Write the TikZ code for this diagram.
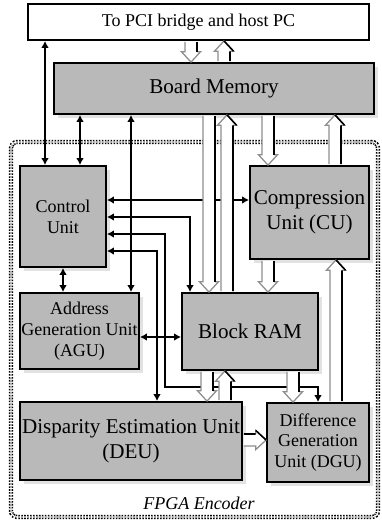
\documentclass[tikz,border=0pt]{standalone}
\usepackage{fontspec}
\setmainfont{Liberation Serif}
\usetikzlibrary{arrows.meta, calc, shadows}
\definecolor{grismedio}{HTML}{B9B9B9}
\definecolor{grissombra}{HTML}{E2E2E2}
\definecolor{grisbus}{HTML}{8E8E8E}
\tikzset{
  caja/.style={rectangle, draw=black, line width=1.3pt, fill=white, inner sep=0.5pt,
               minimum width=85.25mm, minimum height=9mm, font=\fontsize{12.8}{14.8}\selectfont},
  unidad/.style={rectangle, draw=black, line width=1.3pt, fill=grismedio, inner sep=0.5pt,
                 align=center, font=\fontsize{15}{17.5}\selectfont,
                 drop shadow={shadow xshift=1.1mm, shadow yshift=-1.1mm, fill=grissombra, opacity=1}},
  unidadc/.style={unidad, font=\fontsize{12.8}{14.8}\selectfont},
  marco/.style={rectangle, rounded corners=1.5mm, draw=black, line width=1.1pt,
                double=white, double distance=0.9pt, dash pattern=on 1.1pt off 1pt},
  enlace/.style={line width=1.1pt, {Latex[length=5pt,width=5.5pt]}-{Latex[length=5pt,width=5.5pt]}},
  bus/.style={draw=grisbus, line width=0.9pt, line join=miter},
  busnegro/.style={draw=black, line width=1.1pt}
}
\newcommand{\busabajo}[3]{%
  \fill[white] let \p1=(#1,0 |- #2), \p2=(#1,0 |- #3) in
    ({\x1-1.5mm},{\y1-0.7pt}) -- ({\x1-1.5mm},{\y2+2.6mm}) -- ({\x1-2.4mm},{\y2+2.6mm}) -- (\x1,\y2)
    -- ({\x1+2.4mm},{\y2+2.6mm}) -- ({\x1+1.5mm},{\y2+2.6mm}) -- ({\x1+1.5mm},{\y1-0.7pt}) -- cycle;
  \draw[bus] let \p1=(#1,0 |- #2), \p2=(#1,0 |- #3) in
    ({\x1-1.5mm},{\y1-0.7pt}) -- ({\x1-1.5mm},{\y2+2.6mm}) -- ({\x1-2.4mm},{\y2+2.6mm}) -- (\x1,\y2)
    -- ({\x1+2.4mm},{\y2+2.6mm}) -- ({\x1+1.5mm},{\y2+2.6mm});
  \draw[busnegro] let \p1=(#1,0 |- #2), \p2=(#1,0 |- #3) in
    ({\x1+1.5mm},{\y1-0.7pt}) -- ({\x1+1.5mm},{\y2+2.6mm});
}
\newcommand{\busarriba}[3]{%
  \fill[white] let \p1=(#1,0 |- #2), \p2=(#1,0 |- #3) in
    ({\x1-1.5mm},{\y1+0.7pt}) -- ({\x1-1.5mm},{\y2-2.6mm}) -- ({\x1-2.4mm},{\y2-2.6mm}) -- (\x1,\y2)
    -- ({\x1+2.4mm},{\y2-2.6mm}) -- ({\x1+1.5mm},{\y2-2.6mm}) -- ({\x1+1.5mm},{\y1+0.7pt}) -- cycle;
  \draw[bus] let \p1=(#1,0 |- #2), \p2=(#1,0 |- #3) in
    ({\x1-1.5mm},{\y1+0.7pt}) -- ({\x1-1.5mm},{\y2-2.6mm}) -- ({\x1-2.4mm},{\y2-2.6mm}) -- (\x1,\y2)
    -- ({\x1+2.4mm},{\y2-2.6mm}) -- ({\x1+1.5mm},{\y2-2.6mm});
  \draw[busnegro] let \p1=(#1,0 |- #2), \p2=(#1,0 |- #3) in
    ({\x1+1.5mm},{\y1+0.7pt}) -- ({\x1+1.5mm},{\y2-2.6mm}) ({\x1+2.4mm},{\y2-2.6mm}) -- (\x1,\y2);
}
\newcommand{\busderecha}[3]{%
  \fill[white] let \p1=(#2 |- 0,#1), \p2=(#3 |- 0,#1) in
    ({\x1+0.7pt},{\y1-1.5mm}) -- ({\x2-2.6mm},{\y1-1.5mm}) -- ({\x2-2.6mm},{\y1-2.4mm}) -- (\x2,\y1)
    -- ({\x2-2.6mm},{\y1+2.4mm}) -- ({\x2-2.6mm},{\y1+1.5mm}) -- ({\x1+0.7pt},{\y1+1.5mm}) -- cycle;
  \draw[bus] let \p1=(#2 |- 0,#1), \p2=(#3 |- 0,#1) in
    ({\x1+0.7pt},{\y1-1.5mm}) -- ({\x2-2.6mm},{\y1-1.5mm}) -- ({\x2-2.6mm},{\y1-2.4mm}) -- (\x2,\y1)
    -- ({\x2-2.6mm},{\y1+2.4mm}) -- ({\x2-2.6mm},{\y1+1.5mm});
  \draw[busnegro] let \p1=(#2 |- 0,#1), \p2=(#3 |- 0,#1) in
    ({\x1+0.7pt},{\y1+1.5mm}) -- ({\x2-2.6mm},{\y1+1.5mm}) ({\x2-2.6mm},{\y1+2.4mm}) -- (\x2,\y1);
}

\begin{document}
\begin{tikzpicture}[x=0.25mm, y=-0.25mm]
  \useasboundingbox (0,0) rectangle (382,522);
  \node (fpga) [marco, minimum width=91.75mm, minimum height=93.75mm] at (194.5,329.5) {};
  \node (rot) [font=\fontsize{12.8}{14.8}\selectfont\itshape] at (199,503) {FPGA Encoder};
  \node (pci) [caja] at (198.5,22) {To PCI bridge and host PC};
  \node (mem) [unidad, minimum width=80mm, minimum height=12.75mm] at (214,88.5) {Board Memory};
  \node (ctrl) [unidadc, minimum width=21.5mm, minimum height=25.25mm] at (63,216.5) {Control\\Unit};
  \node (comp) [unidad, minimum width=29.75mm, minimum height=23.25mm] at (309.5,212.5) {Compression\\Unit (CU)};
  \node (agu) [unidadc, minimum width=29.75mm, minimum height=19mm] at (79.5,331) {Address\\Generation Unit\\(AGU)};
  \node (bram) [unidad, minimum width=34mm, minimum height=19.25mm] at (250,331.5) {Block RAM};
  \node (deu) [unidad, minimum width=55.5mm, minimum height=19.5mm] at (131,441) {Disparity Estimation Unit\\(DEU)};
  \node (dgu) [unidadc, minimum width=25.5mm, minimum height=19.75mm] at (318,442.5) {Difference\\Generation\\Unit (DGU)};

  \draw [enlace] (45,0 |- pci.south) -- (45,0 |- ctrl.north);
  \draw [enlace] (80,0 |- mem.south) -- (80,0 |- ctrl.north);
  \draw [enlace] (131,0 |- mem.south) -- (131,0 |- agu.north);
  \draw [enlace] (63,0 |- ctrl.south) -- (63,0 |- agu.north);
  \draw [enlace] (ctrl.east |- 0,200) -- (comp.west |- 0,200);
  \draw [enlace] (ctrl.east |- 0,217) -| (190,0 |- bram.north);
  \draw [enlace] (ctrl.east |- 0,234) -| (165,387) -| (dgu.north);
  \draw [enlace] (ctrl.east |- 0,251) -| (157,0 |- deu.north);
  \draw [enlace] (agu.east |- 0,337) -- (bram.west |- 0,337);

  \busabajo{191}{pci.south}{mem.north}
  \busarriba{224}{mem.north}{pci.south}
  \busabajo{209}{mem.south}{bram.north}
  \busarriba{227}{bram.north}{mem.south}
  \busabajo{268}{mem.south}{comp.north}
  \busarriba{335}{comp.north}{mem.south}
  \busabajo{268}{comp.south}{bram.north}
  \busarriba{336}{dgu.north}{comp.south}
  \busabajo{207}{bram.south}{deu.north}
  \busarriba{225}{deu.north}{bram.south}
  \busabajo{293}{bram.south}{dgu.north}
  \busderecha{440}{deu.east}{dgu.west}
\end{tikzpicture}
\end{document}
